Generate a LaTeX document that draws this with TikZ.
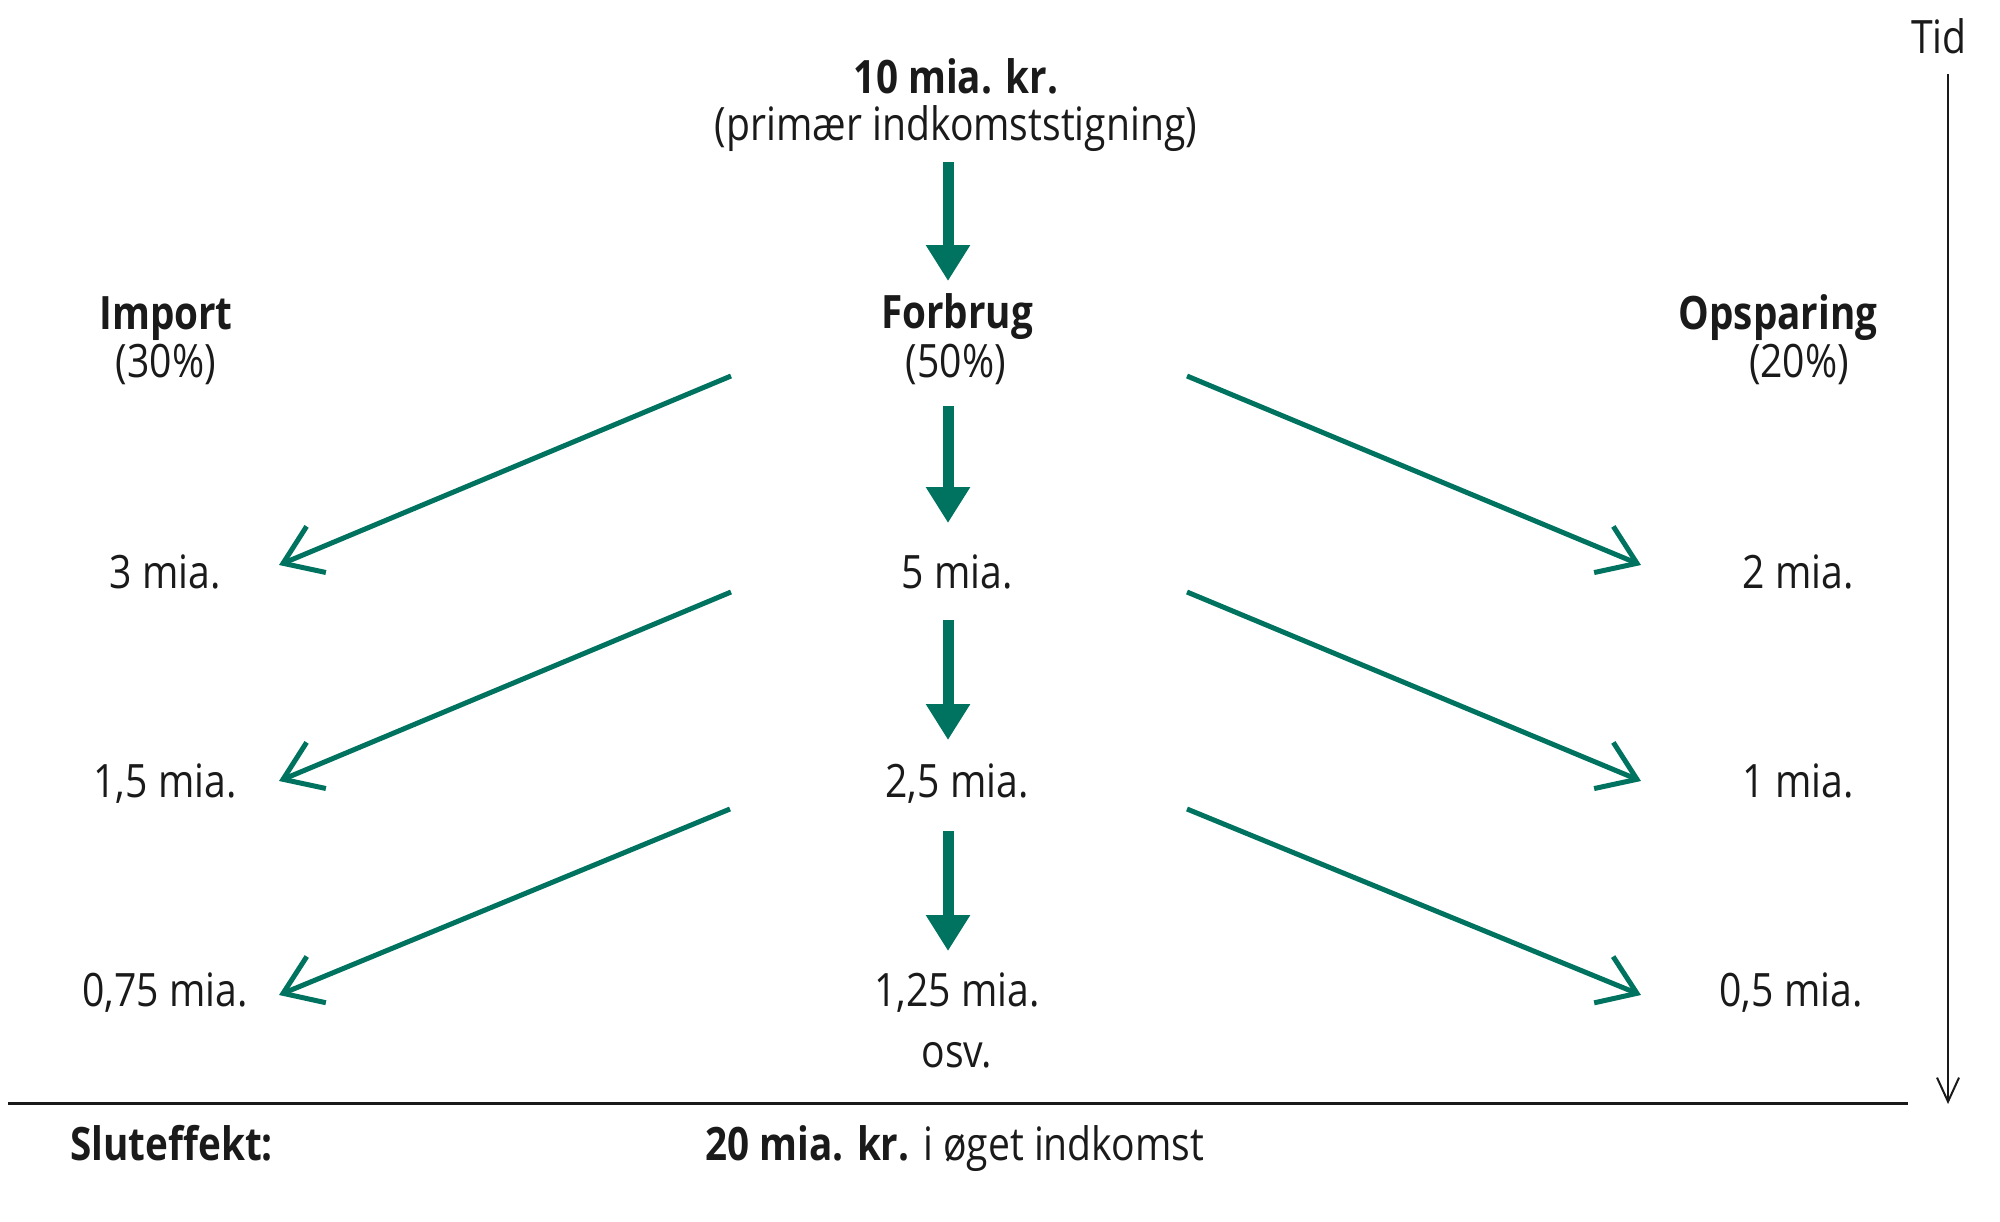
\documentclass[tikz,border=0pt]{standalone}
\usepackage{fontspec}
\setmainfont{Open Sans}[FakeStretch=0.85,BoldFeatures={FakeStretch=0.84}]
\usetikzlibrary{arrows.meta}
\definecolor{teal1}{RGB}{0,115,96}
\definecolor{ink}{RGB}{26,26,26}
\begin{document}
\begin{tikzpicture}[x=0.5pt,y=-0.5pt,
  txt/.style={anchor=base,inner sep=0pt,text=ink,font=\fontsize{23}{27}\selectfont},
  bld/.style={txt,font=\fontsize{23}{27}\selectfont\bfseries},
  thick arrow/.style={draw=teal1,line width=5.5pt,-{Triangle[length=18pt,width=21pt]},fill=teal1},
  thin arrow/.style={draw=teal1,line width=2.5pt,-{Straight Barb[length=18pt,width=25pt]}},
]
\useasboundingbox (0,0) rectangle (2000,1221);
% texts
\node[bld] (top1) at (956,93) {10 mia. kr.};
\node[txt] (top2) at (956,140) {(primær indkomststigning)};
\node[bld] (imp) at (166,329) {Import};
\node[txt] (impp) at (166,377) {(30\%)};
\node[bld] (forb) at (957,328) {Forbrug};
\node[txt] (forbp) at (956,377) {(50\%)};
\node[bld] (ops) at (1778,329) {Opsparing};
\node[txt] (opsp) at (1799,377) {(20\%)};
\node[txt] (l1) at (165,588) {3 mia.};
\node[txt] (c1) at (957,588) {5 mia.};
\node[txt] (r1) at (1798,588) {2 mia.};
\node[txt] (l2) at (165,797) {1,5 mia.};
\node[txt] (c2) at (957,797) {2,5 mia.};
\node[txt] (r2) at (1798,797) {1 mia.};
\node[txt] (l3) at (165,1006) {0,75 mia.};
\node[txt] (c3) at (957,1006) {1,25 mia.};
\node[txt] (r3) at (1791,1006) {0,5 mia.};
\node[txt] (osv) at (957,1067) {osv.};
\node[txt] (tid) at (1939,53) {Tid};
\node[bld,anchor=base west] (slut) at (70,1160) {Sluteffekt:};
\node[txt,anchor=base west] (res) at (705,1160) {\textbf{20 mia. kr.} i øget indkomst};
% coordinates
\coordinate (a0s) at (948,162); \coordinate (a0e) at (948,281);
\coordinate (a1s) at (948,406); \coordinate (a1e) at (948,523);
\coordinate (a2s) at (948,620); \coordinate (a2e) at (948,740);
\coordinate (a3s) at (948,831); \coordinate (a3e) at (948,951);
\coordinate (L1s) at (731,376); \coordinate (L1e) at (279,565);
\coordinate (L2s) at (731,592); \coordinate (L2e) at (279,781);
\coordinate (L3s) at (730,809); \coordinate (L3e) at (279,995);
\coordinate (R1s) at (1187,376); \coordinate (R1e) at (1641,565);
\coordinate (R2s) at (1187,592); \coordinate (R2e) at (1641,781);
\coordinate (R3s) at (1187,809); \coordinate (R3e) at (1641,995);
\coordinate (tidS) at (1948,74); \coordinate (tidE) at (1948,1104);
\coordinate (hl) at (8,1103); \coordinate (hr) at (1908,1103);
% arrows
\foreach \i in {0,1,2,3} \draw[thick arrow] (a\i s) -- (a\i e);
\foreach \i in {1,2,3} {
  \draw[thin arrow] (L\i s) -- (L\i e);
  \draw[thin arrow] (R\i s) -- (R\i e);
}
\draw[draw=ink,line width=1pt,-{Straight Barb[length=12pt,width=11pt]}] (tidS) -- (tidE);
\draw[draw=ink,line width=1.5pt] (hl) -- (hr);
\end{tikzpicture}
\end{document}
